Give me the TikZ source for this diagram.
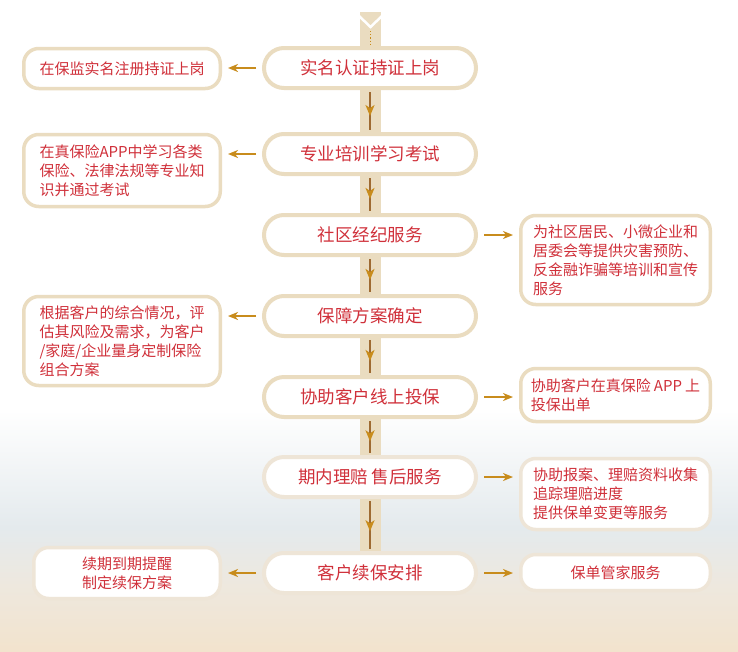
\documentclass[tikz,border=0pt]{standalone}
\usepackage{fontspec}
\setmainfont{Noto Sans CJK SC}
\usepackage{tikz}
\usetikzlibrary{arrows.meta,decorations.markings}
\definecolor{rouge}{RGB}{208,48,58}
\definecolor{beige}{RGB}{234,220,192}
\definecolor{beigeclair}{RGB}{238,229,215}
\definecolor{or}{RGB}{200,140,28}
\definecolor{brun}{RGB}{158,106,50}
\definecolor{bggris}{RGB}{228,234,237}
\definecolor{bgmid}{RGB}{238,232,222}
\definecolor{bgbas}{RGB}{242,227,205}
\pgfdeclareverticalshading{fond}{100bp}{color(0bp)=(bgbas); color(25bp)=(bgbas);
  color(30bp)=(bgmid); color(34.5bp)=(bggris); color(43.5bp)=(white); color(100bp)=(white)}
\tikzset{
  etape/.style={draw=beige, line width=4pt, fill=white, rounded corners=20pt,
    minimum width=212pt, minimum height=40pt, text=rouge, font=\fontsize{17.5}{20}\selectfont},
  boite/.style={draw=beige, line width=3.5pt, fill=white, rounded corners=15pt,
    inner xsep=4pt, text=rouge, align=left, font=\fontsize{15}{19}\selectfont},
  pale/.style={draw=beigeclair},
  fleche/.style={or, line width=2pt, -{Stealth[length=10pt,width=8pt,inset=3pt]},
    shorten <=6pt, shorten >=6pt},
  suite/.style={brun, line width=2pt, shorten <=2pt, shorten >=2pt, postaction={decorate},
    decoration={markings, mark=at position 0.62 with
      {\arrow{Stealth[length=11pt,width=9pt,inset=3pt,color=or]}}}}
}

\begin{document}
\begin{tikzpicture}[x=1pt,y=-1pt]
  % fond
  \useasboundingbox (0,0) rectangle (738,651);
  \shade[shading=fond] (0,0) rectangle (738,651);

  % bande centrale
  \fill[beige] (360,12) rectangle (381,553);
  \draw[white, line width=2.5pt] (358,15) -- (370.5,27) -- (383,15);
  \draw[or, line width=1.2pt, dotted] (370.5,31) -- (370.5,46);

  % etapes
  \foreach \n/\y/\t/\s in {1/68/实名认证持证上岗/, 2/154/专业培训学习考试/,
      3/235/社区经纪服务/, 4/316/保障方案确定/, 5/397/协助客户线上投保/,
      6/477/期内理赔 售后服务/pale, 7/573/客户续保安排/pale}
    \node[etape,\s] (e\n) at (370,\y) {\t};
  \foreach \a [count=\b from 2] in {1,...,6}
    \draw[suite] (e\a.south) -- (e\b.north);

  % a gauche
  \node[boite, align=center, minimum width=196.5pt, minimum height=40pt] (g1) at (122,68.5)
    {在保监实名注册持证上岗};
  \node[boite, minimum width=196.5pt, minimum height=72pt] (g2) at (122,170.5)
    {在真保险APP中学习各类\\保险、法律法规等专业知\\识并通过考试};
  \node[boite, minimum width=196.5pt, minimum height=89pt] (g4) at (122,341)
    {根据客户的综合情况，评\\估其风险及需求，为客户\\/家庭/企业量身定制保险\\组合方案};
  \node[boite, pale, align=center, minimum width=186.5pt, minimum height=51pt] (g7) at (127,573)
    {续期到期提醒\\制定续保方案};

  % a droite
  \node[boite, minimum width=189.5pt, minimum height=89pt] (d3) at (615.5,260)
    {为社区居民、小微企业和\\居委会等提供灾害预防、\\反金融诈骗等培训和宣传\\服务};
  \node[boite, minimum width=189.5pt, minimum height=53pt] (d5) at (615.5,395)
    {协助客户在真保险\hspace{3pt}APP\hspace{3pt}上\\投保出单};
  \node[boite, pale, minimum width=189.5pt, minimum height=71pt] (d6) at (615.5,494)
    {协助报案、理赔资料收集\\追踪理赔进度\\提供保单变更等服务};
  \node[boite, pale, align=center, minimum width=189.5pt, minimum height=36pt] (d7) at (615.5,572.5)
    {保单管家服务};

  % fleches
  \foreach \n in {1,2,4,7}
    \draw[fleche] (e\n.west) -- (e\n.west -| g\n.east);
  \foreach \n in {3,5,6,7}
    \draw[fleche] (e\n.east) -- (e\n.east -| d\n.west);
\end{tikzpicture}
\end{document}
